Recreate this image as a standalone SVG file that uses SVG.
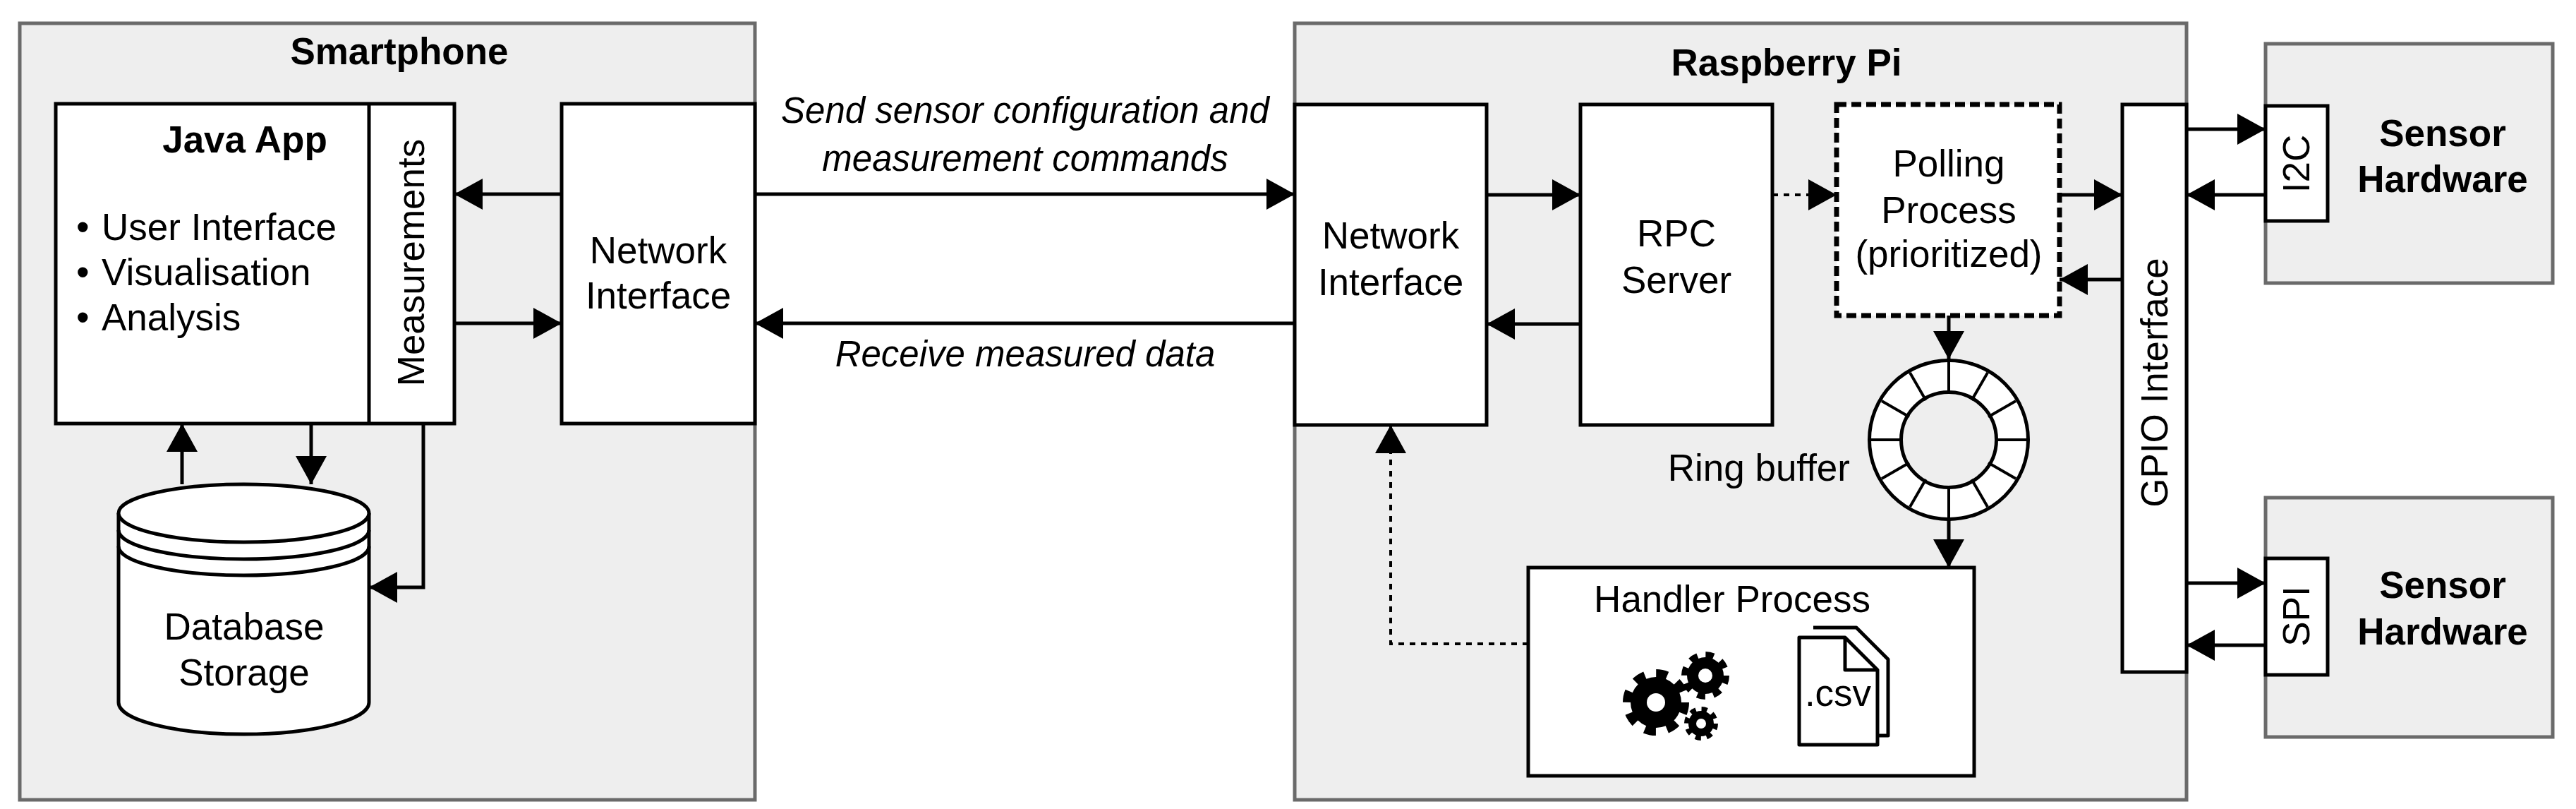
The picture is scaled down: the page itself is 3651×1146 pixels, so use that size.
<svg xmlns="http://www.w3.org/2000/svg" width="3651" height="1146" viewBox="0 0 3651 1146">
<defs>
<style>
text{font-family:"Liberation Sans",Arial,sans-serif;fill:#000;font-size:53px}
.b{font-weight:bold}
.i{font-style:italic;font-size:51px}
.cont{fill:#eeeeee;stroke:#6a6a6a;stroke-width:5}
.box{fill:#fff;stroke:#000;stroke-width:5}
.ln{fill:none;stroke:#000;stroke-width:5}
.dot{fill:none;stroke:#000;stroke-width:4;stroke-dasharray:8 8}
</style>
<marker id="ah" viewBox="0 0 40 44" refX="40" refY="22" markerWidth="40" markerHeight="44" markerUnits="userSpaceOnUse" orient="auto">
<path d="M0,0 L40,22 L0,44z" fill="#000"/>
</marker>
</defs>
<rect width="3651" height="1146" fill="#fff"/>

<g id="smartphone">
<rect class="cont" x="28" y="33" width="1042" height="1100"/>
<text class="b" x="566" y="91" text-anchor="middle" font-size="54">Smartphone</text>
</g>
<g id="raspberry">
<rect class="cont" x="1835" y="33" width="1264" height="1100"/>
<text class="b" x="2532" y="107" text-anchor="middle" font-size="54">Raspberry Pi</text>
</g>
<g id="sensor1">
<rect class="cont" x="3211" y="62" width="407" height="339"/>
<text class="b" x="3462" y="207" text-anchor="middle">Sensor</text>
<text class="b" x="3462" y="272" text-anchor="middle">Hardware</text>
</g>
<g id="sensor2">
<rect class="cont" x="3211" y="705" width="407" height="339"/>
<text class="b" x="3462" y="847" text-anchor="middle">Sensor</text>
<text class="b" x="3462" y="913" text-anchor="middle">Hardware</text>
</g>

<g id="java-app">
<rect class="box" x="79" y="147" width="565" height="453"/>
<line class="ln" x1="523" y1="147" x2="523" y2="600"/>
<text class="b" x="347" y="216" text-anchor="middle">Java App</text>
<text x="108" y="340">•</text><text x="144" y="340">User Interface</text>
<text x="108" y="404">•</text><text x="144" y="404">Visualisation</text>
<text x="108" y="468">•</text><text x="144" y="468">Analysis</text>
<text transform="translate(601,372) rotate(-90)" text-anchor="middle">Measurements</text>
</g>

<g id="phone-net">
<rect class="box" x="796" y="147" width="274" height="453"/>
<text x="933" y="373" text-anchor="middle">Network</text>
<text x="933" y="437" text-anchor="middle">Interface</text>
</g>

<g id="database">
<path class="box" d="M168,727 L168,995 A177.5,45 0 0 0 523,995 L523,727"/>
<ellipse class="box" cx="345.5" cy="727" rx="177.5" ry="41"/>
<path class="ln" d="M168,751 A177.5,41 0 0 0 523,751 M168,774 A177.5,41 0 0 0 523,774"/>
<text x="346" y="906" text-anchor="middle">Database</text>
<text x="346" y="971" text-anchor="middle">Storage</text>
</g>

<g id="pi-net">
<rect class="box" x="1835" y="148" width="272" height="454"/>
<text x="1971" y="352" text-anchor="middle">Network</text>
<text x="1971" y="418" text-anchor="middle">Interface</text>
</g>
<g id="rpc">
<rect class="box" x="2240" y="148" width="272" height="454"/>
<text x="2376" y="349" text-anchor="middle">RPC</text>
<text x="2376" y="415" text-anchor="middle">Server</text>
</g>
<g id="polling">
<rect x="2603" y="148" width="316" height="299" fill="#fff" stroke="#000" stroke-width="7" stroke-dasharray="14 7"/>
<text x="2762" y="250" text-anchor="middle">Polling</text>
<text x="2762" y="316" text-anchor="middle">Process</text>
<text x="2762" y="378" text-anchor="middle">(prioritized)</text>
</g>
<g id="gpio">
<rect class="box" x="3008" y="148" width="91" height="804"/>
<text transform="translate(3072,542) rotate(-90)" text-anchor="middle">GPIO Interface</text>
</g>
<g id="i2c">
<rect class="box" x="3211" y="150" width="88" height="163"/>
<text transform="translate(3273,232) rotate(-90)" text-anchor="middle">I2C</text>
</g>
<g id="spi">
<rect class="box" x="3211" y="791" width="88" height="165"/>
<text transform="translate(3273,873) rotate(-90)" text-anchor="middle">SPI</text>
</g>

<g id="ring-buffer">
<circle cx="2762" cy="623" r="90" fill="none" stroke="#000" stroke-width="50"/>
<circle cx="2762" cy="623" r="90" fill="none" stroke="#fff" stroke-width="40"/>
<g stroke="#000" stroke-width="4">
<line x1="2762" y1="513" x2="2762" y2="558"/>
<line x1="2762" y1="688" x2="2762" y2="733"/>
<line x1="2652" y1="623" x2="2697" y2="623"/>
<line x1="2827" y1="623" x2="2872" y2="623"/>
<line x1="2707" y1="528" x2="2729.5" y2="567"/>
<line x1="2794.5" y1="679" x2="2817" y2="718"/>
<line x1="2817" y1="528" x2="2794.5" y2="567"/>
<line x1="2729.5" y1="679" x2="2707" y2="718"/>
<line x1="2667" y1="568" x2="2706" y2="590.5"/>
<line x1="2818" y1="655.5" x2="2857" y2="678"/>
<line x1="2857" y1="568" x2="2818" y2="590.5"/>
<line x1="2706" y1="655.5" x2="2667" y2="678"/>
</g>
<text x="2622" y="681" text-anchor="end">Ring buffer</text>
</g>

<g id="handler">
<rect class="box" x="2166" y="804" width="632" height="295"/>
<text x="2455" y="867" text-anchor="middle">Handler Process</text>
<g fill="#000">
<circle cx="2347" cy="995" r="36"/>
<circle cx="2347" cy="995" r="40" fill="none" stroke="#000" stroke-width="14" stroke-dasharray="15.7 15.7"/>
<circle cx="2347" cy="995" r="13" fill="#fff"/>
<circle cx="2417" cy="957" r="26"/>
<circle cx="2417" cy="957" r="29" fill="none" stroke="#000" stroke-width="10" stroke-dasharray="11.4 11.4"/>
<circle cx="2417" cy="957" r="10" fill="#fff"/>
<circle cx="2411" cy="1025" r="18"/>
<circle cx="2411" cy="1025" r="20" fill="none" stroke="#000" stroke-width="8" stroke-dasharray="7.85 7.85"/>
<circle cx="2411" cy="1025" r="7" fill="#fff"/>
</g>
<path d="M2570,889 L2631,889 L2676,934 L2676,1042 L2661,1042" fill="#fff" stroke="#000" stroke-width="5" stroke-linejoin="round"/>
<path d="M2550,903 L2615,903 L2661,949 L2661,1055 L2550,1055 Z" fill="#fff" stroke="#000" stroke-width="5" stroke-linejoin="round"/>
<path d="M2615,903 L2615,949 L2661,949" fill="none" stroke="#000" stroke-width="5" stroke-linejoin="round"/>
<text x="2605" y="1000" text-anchor="middle" font-size="25">.csv</text>
</g>

<g id="connectors">
<line class="ln" x1="796" y1="275" x2="644" y2="275" marker-end="url(#ah)"/>
<line class="ln" x1="644" y1="458" x2="796" y2="458" marker-end="url(#ah)"/>
<line class="ln" x1="258" y1="686" x2="258" y2="600" marker-end="url(#ah)"/>
<line class="ln" x1="441" y1="600" x2="441" y2="686" marker-end="url(#ah)"/>
<polyline class="ln" points="600,600 600,832 523,832" marker-end="url(#ah)"/>
<line class="ln" x1="1070" y1="275" x2="1835" y2="275" marker-end="url(#ah)"/>
<line class="ln" x1="1835" y1="458" x2="1070" y2="458" marker-end="url(#ah)"/>
<line class="ln" x1="2107" y1="276" x2="2240" y2="276" marker-end="url(#ah)"/>
<line class="ln" x1="2240" y1="459" x2="2107" y2="459" marker-end="url(#ah)"/>
<line class="dot" x1="2512" y1="276" x2="2603" y2="276" marker-end="url(#ah)"/>
<line class="ln" x1="2919" y1="276" x2="3008" y2="276" marker-end="url(#ah)"/>
<line class="ln" x1="3008" y1="396" x2="2919" y2="396" marker-end="url(#ah)"/>
<line class="ln" x1="3099" y1="183" x2="3211" y2="183" marker-end="url(#ah)"/>
<line class="ln" x1="3211" y1="276" x2="3099" y2="276" marker-end="url(#ah)"/>
<line class="ln" x1="3099" y1="826" x2="3211" y2="826" marker-end="url(#ah)"/>
<line class="ln" x1="3211" y1="914" x2="3099" y2="914" marker-end="url(#ah)"/>
<line class="ln" x1="2762" y1="447" x2="2762" y2="509" marker-end="url(#ah)"/>
<line class="ln" x1="2762" y1="736" x2="2762" y2="804" marker-end="url(#ah)"/>
<polyline class="dot" points="2166,912 1971,912 1971,602" marker-end="url(#ah)"/>
<text class="i" x="1453" y="174" text-anchor="middle">Send sensor configuration and</text>
<text class="i" x="1453" y="242" text-anchor="middle">measurement commands</text>
<text class="i" x="1453" y="519" text-anchor="middle">Receive measured data</text>
</g>
</svg>
